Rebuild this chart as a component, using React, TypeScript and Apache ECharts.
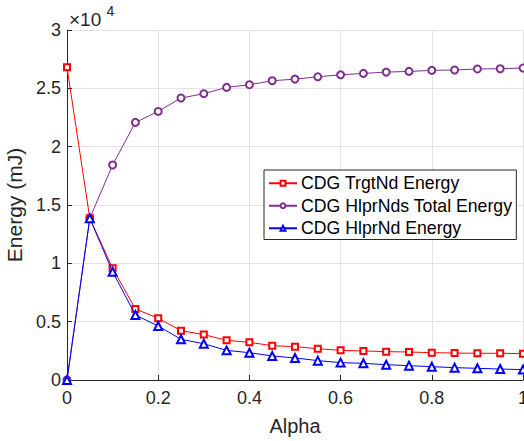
import React, { useEffect, useRef } from "react";
import * as echarts from "echarts";

const alpha = [0, 0.05, 0.1, 0.15, 0.2, 0.25, 0.3, 0.35, 0.4, 0.45, 0.5, 0.55, 0.6, 0.65, 0.7, 0.75, 0.8, 0.85, 0.9, 0.95, 1];
const trgtNdEnergy = [26800, 13860, 9570, 6090, 5290, 4230, 3890, 3400, 3230, 2940, 2860, 2680, 2540, 2490, 2430, 2400, 2340, 2310, 2290, 2290, 2260];
const hlprNdsTotalEnergy = [0, 13860, 18430, 22080, 23020, 24170, 24540, 25080, 25310, 25650, 25790, 25990, 26160, 26280, 26390, 26450, 26540, 26570, 26660, 26680, 26740];
const hlprNdEnergy = [0, 13860, 9280, 5570, 4630, 3490, 3110, 2540, 2340, 2060, 1890, 1660, 1490, 1430, 1310, 1230, 1140, 1060, 1000, 940, 890];
const xTicks = [0, 0.2, 0.4, 0.6, 0.8, 1];

const seriesNames = ["CDG TrgtNd Energy", "CDG HlprNds Total Energy", "CDG HlprNd Energy"];

export default function App() {
  const ref = useRef<HTMLDivElement>(null);
  useEffect(() => {
    if (!ref.current) return;
    const chart = echarts.init(ref.current, undefined, { renderer: "svg" });
    const font = "'Liberation Sans', Arial, Helvetica, sans-serif";
    const txt = "#262626";
    const mk = (ys: number[]) => alpha.map((a, i) => [a, ys[i]]);
    chart.setOption({
      animation: false,
      textStyle: { fontFamily: font },
      grid: { left: 67, right: 1, top: 30, bottom: 61, containLabel: false, outerBoundsMode: "none" },
      xAxis: {
        type: "value",
        min: 0,
        max: 1,
        interval: 0.2,
        name: "Alpha",
        nameLocation: "middle",
        nameGap: 36,
        nameTextStyle: { fontSize: 20, color: txt, fontFamily: font },
        axisLine: { show: true, onZero: false, lineStyle: { color: txt, width: 1 } },
        axisTick: { show: true, inside: true, length: 5, lineStyle: { color: txt } },
        axisLabel: {
          fontSize: 18,
          color: txt,
          fontFamily: font,
          margin: 9,
          hideOverlap: false,
          formatter: (v: number) => String(xTicks.find((t) => Math.abs(t - v) < 1e-9) ?? v),
        },
        splitLine: { show: true, lineStyle: { color: "#e3e3e3", width: 1 } },
      },
      yAxis: {
        type: "value",
        min: 0,
        max: 30000,
        interval: 5000,
        name: "Energy (mJ)",
        nameLocation: "middle",
        nameGap: 39,
        nameRotate: 90,
        nameTextStyle: { fontSize: 21, color: txt, fontFamily: font },
        axisLine: { show: true, onZero: false, lineStyle: { color: txt, width: 1 } },
        axisTick: { show: true, inside: true, length: 5, lineStyle: { color: txt } },
        axisLabel: {
          fontSize: 18,
          color: txt,
          fontFamily: font,
          margin: 6,
          formatter: (v: number) => String(Math.round(v / 1000) / 10),
        },
        splitLine: { show: true, lineStyle: { color: "#e3e3e3", width: 1 } },
      },
      legend: {
        orient: "vertical",
        left: 264,
        top: 170,
        padding: [4, 4, 2, 4],
        itemGap: 4,
        itemWidth: 28,
        itemHeight: 6,
        backgroundColor: "#ffffff",
        borderColor: txt,
        borderWidth: 1,
        textStyle: { fontSize: 17.7, color: "#000", fontFamily: font, lineHeight: 18.5, padding: [0, 0, 0, -1] },
        data: seriesNames,
      },
      graphic: [
        {
          type: "text",
          x: 69,
          y: 19.5,
          style: { text: "×10", fontSize: 19, fill: txt, fontFamily: font, verticalAlign: "middle", align: "left" },
        },
        {
          type: "text",
          x: 106.5,
          y: 10.5,
          style: { text: "4", fontSize: 14, fill: txt, fontFamily: font, verticalAlign: "middle", align: "left" },
        },
      ],
      series: [
        {
          name: seriesNames[0],
          type: "line",
          data: mk(trgtNdEnergy),
          symbol: "emptyRect",
          symbolSize: 6,
          lineStyle: { color: "#ff0000", width: 1 },
          itemStyle: { color: "#ff0000", borderWidth: 1 },
          z: 3,
        },
        {
          name: seriesNames[1],
          type: "line",
          data: mk(hlprNdsTotalEnergy),
          symbol: "emptyCircle",
          symbolSize: 7,
          lineStyle: { color: "#7e2f8e", width: 1 },
          itemStyle: { color: "#7e2f8e", borderWidth: 1 },
          z: 2,
        },
        {
          name: seriesNames[2],
          type: "line",
          data: mk(hlprNdEnergy),
          symbol: "emptyTriangle",
          symbolSize: 8,
          lineStyle: { color: "#0000ff", width: 1 },
          itemStyle: { color: "#0000ff", borderWidth: 1 },
          z: 4,
        },
      ],
    });
    return () => chart.dispose();
  }, []);
  return <div ref={ref} style={{ width: 524, height: 441, position: "absolute", left: 0, top: 0 }} />;
}
